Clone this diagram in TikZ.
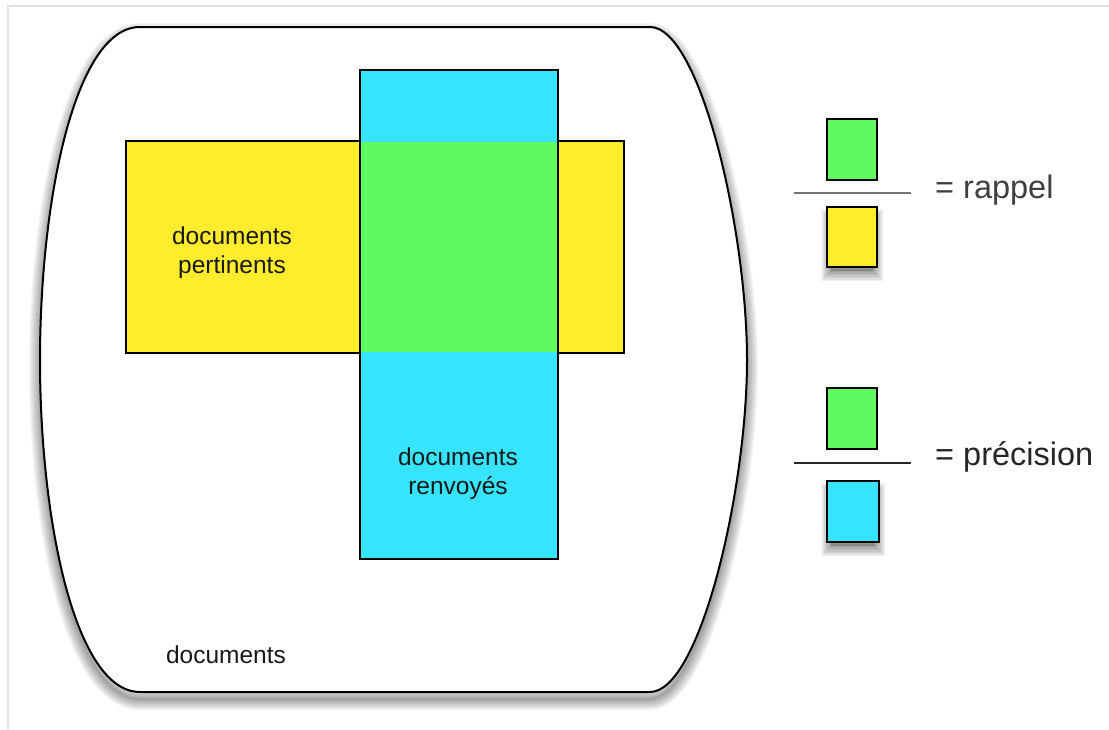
\documentclass[tikz,border=0pt]{standalone}
\usepackage{fontspec}
\setmainfont{Liberation Sans}
\definecolor{yel}{RGB}{255,236,45}
\definecolor{cya}{RGB}{54,228,255}
\definecolor{gre}{RGB}{95,250,95}
\definecolor{framegray}{RGB}{225,225,225}
\def\outerpath{(140,27) -- (650,27) .. controls (700,27) and (747,230) .. (747,360) .. controls (747,490) and (700,692) .. (650,692) -- (140,692) .. controls (75,692) and (40,520) .. (40,360) .. controls (40,200) and (75,27) .. (140,27) -- cycle}
\tikzset{
  txt/.style={align=center, font=\fontsize{24.5}{29}\selectfont, inner sep=0pt, text=black!90},
  legtxt/.style={font=\fontsize{32.5}{38}\selectfont, inner sep=0pt, anchor=west},
  outl/.style={draw=black, line width=2pt},
}
\begin{document}
\begin{tikzpicture}[x=1pt,y=-1pt]
\useasboundingbox (0,0) rectangle (1109,729);
\fill[white] (0,0) rectangle (1109,729);
\draw[framegray, line width=1.5pt] (8,729) -- (8,6) -- (1109,6);
% shadow of the outer shape
\begin{scope}[shift={(0,7)}]
\foreach \w in {22,19,16,13,10,7,4,2}{
  \draw[black, line width=\w pt, opacity=0.05] \outerpath;
}
\end{scope}
\filldraw[fill=white, draw=black, line width=2pt] \outerpath;
% sets
\filldraw[fill=yel, outl] (126,141) rectangle (624,353);
\filldraw[fill=cya, outl] (360,70) rectangle (558,559);
\fill[gre] (361,142) rectangle (557,352);
\node[txt] (pert) at (232,253) {documents\\pertinents};
\node[txt] (renv) at (458,474) {documents\\renvoy\'es};
\node[txt] (docs) at (226,655) {documents};
% legend: rappel
\fill[gre] (827,119) rectangle (877,180);
\draw[outl] (827,119) rectangle (877,180);
\draw[black!55, line width=2.4pt] (794,193) -- (911,193);
\begin{scope}[shift={(0,8)}]
\fill[black, opacity=0.2] (831,211) rectangle (873,263);
\foreach \w in {20,17,14,11,8,5,2}{
  \draw[black, line width=\w pt, opacity=0.06] (831,211) rectangle (873,263);
}
\end{scope}
\filldraw[fill=yel, outl] (827,207) rectangle (877,267);
\node[legtxt, text=black!75] (rap) at (935,190) {= rappel};
% legend: precision
\fill[gre] (827,388) rectangle (877,449);
\draw[outl] (827,388) rectangle (877,449);
\draw[black!85, line width=2.2pt] (794,463) -- (911,463);
\begin{scope}[shift={(0,8)}]
\fill[black, opacity=0.2] (831,485) rectangle (875,538);
\foreach \w in {20,17,14,11,8,5,2}{
  \draw[black, line width=\w pt, opacity=0.06] (831,485) rectangle (875,538);
}
\end{scope}
\filldraw[fill=cya, outl] (827,481) rectangle (879,542);
\node[legtxt, text=black!85] (prec) at (935,457) {= pr\'ecision};
\end{tikzpicture}
\end{document}
